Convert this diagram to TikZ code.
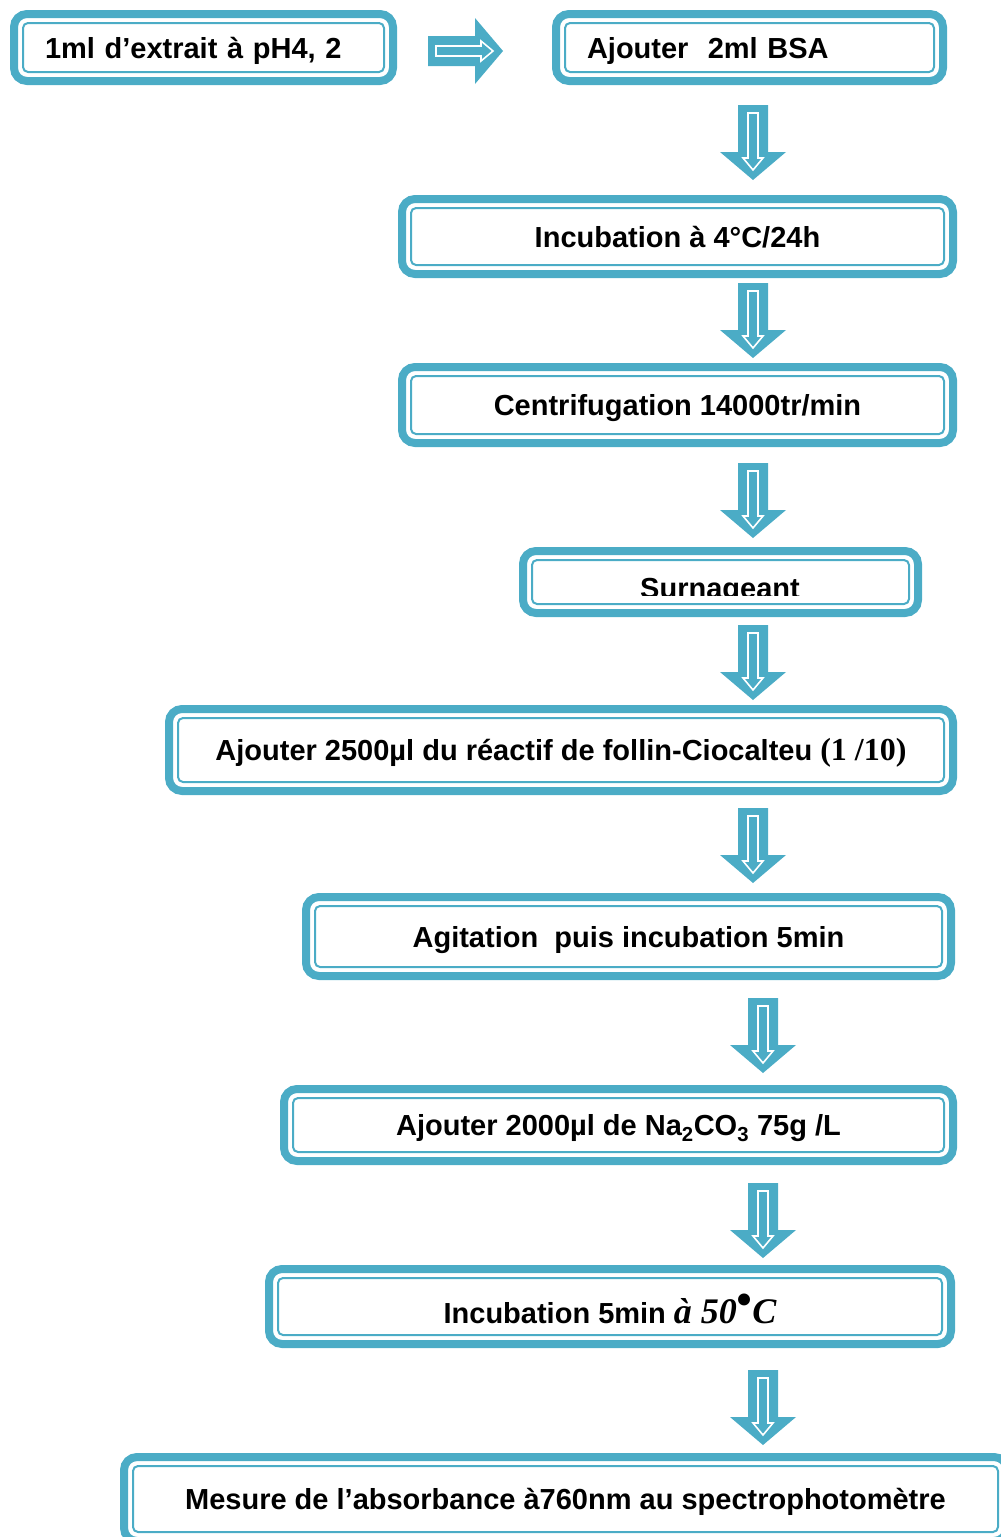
\documentclass[tikz,border=0pt]{standalone}
\usepackage{fontspec}
\setmainfont{Liberation Sans}
\newfontfamily\timesfont{Liberation Serif}
\usepackage{tikz}
\usetikzlibrary{calc}
\definecolor{boxblue}{RGB}{75,172,198}

\tikzset{
  stepbox/.style={draw=boxblue, line width=8pt, rounded corners=13pt, inner sep=0pt,
    font=\fontsize{29}{34}\selectfont\bfseries, text height=21pt, text depth=0pt},
  innerline/.style={draw=boxblue, line width=2pt, rounded corners=5pt},
  downarrow/.pic={
    \fill[boxblue] (-15,0) -- (15,0) -- (15,47) -- (33,47) -- (0,75) -- (-33,47) -- (-15,47) -- cycle;
    \draw[white, line width=1.6pt] (-5,8) -- (5,8) -- (5,53) -- (10,53) -- (0,65) -- (-10,53) -- (-5,53) -- cycle;
  }
}

\begin{document}
\begin{tikzpicture}[x=1pt, y=-1pt]
      \useasboundingbox (0,0) rectangle (1001,1537);

      \node[stepbox, minimum height=67pt, text width=317pt, inner xsep=31pt, align=left] (extrait) at (203.5,47.5) {1ml d’extrait à pH4, 2};
      \pic[rotate=90] (arrR) at (428,51) {downarrow};
      \node[stepbox, minimum height=67pt, text width=325pt, inner xsep=31pt, align=left] (bsa) at (749.5,47.5) {Ajouter\ \ 2ml BSA};

      \pic (arr1) at (753,105) {downarrow};
      \node[stepbox, minimum width=551pt, minimum height=75pt] (incub) at (677.5,236.5) {Incubation à 4°C/24h};

      \pic (arr2) at (753,283) {downarrow};
      \node[stepbox, minimum width=551pt, minimum height=76pt] (centri) at (677.5,405) {Centrifugation 14000tr/min};

      \pic (arr3) at (753,463) {downarrow};
      \node[stepbox, minimum width=395pt, minimum height=62pt] (surn) at (720.5,582) {};
      \begin{scope}
        \clip (519,540) rectangle (922,595);
        \node[font=\fontsize{29}{34}\selectfont\bfseries, anchor=base, inner sep=0pt] (surntxt) at (720,598) {Surnageant};
      \end{scope}

      \pic (arr4) at (753,625) {downarrow};
      \node[stepbox, minimum width=784pt, minimum height=82pt] (folin) at (561,750) {Ajouter 2500µl du réactif de follin-Ciocalteu {\timesfont\fontsize{32}{36}\selectfont (1 /10)}};

      \pic (arr5) at (753,808) {downarrow};
      \node[stepbox, minimum width=645pt, minimum height=79pt] (agit) at (628.5,936.5) {Agitation\ \ puis incubation 5min};

      \pic (arr6) at (763,998) {downarrow};
      \node[stepbox, minimum width=669pt, minimum height=72pt] (carb) at (618.5,1125) {Ajouter 2000µl de Na\textsubscript{2}CO\textsubscript{3} 75g /L};

      \pic (arr7) at (763,1183) {downarrow};
      \node[stepbox, minimum width=682pt, minimum height=75pt, text height=33pt] (incub2) at (610,1306.5) {Incubation 5min {\timesfont\itshape\fontsize{36}{40}\selectfont à 50\raisebox{0.25em}{\fontsize{44}{44}\selectfont•}C}};

      \pic (arr8) at (763,1370) {downarrow};
      \node[stepbox, minimum width=883pt, minimum height=84pt] (mesure) at (565.5,1499) {Mesure de l’absorbance à760nm au spectrophotomètre};

      % inner frame of every box
      \foreach \n in {extrait,bsa,incub,centri,surn,folin,agit,carb,incub2,mesure}
        \draw[innerline] ([shift={(13pt,13pt)}]\n.south west) rectangle ([shift={(-13pt,-13pt)}]\n.north east);
\end{tikzpicture}
\end{document}
